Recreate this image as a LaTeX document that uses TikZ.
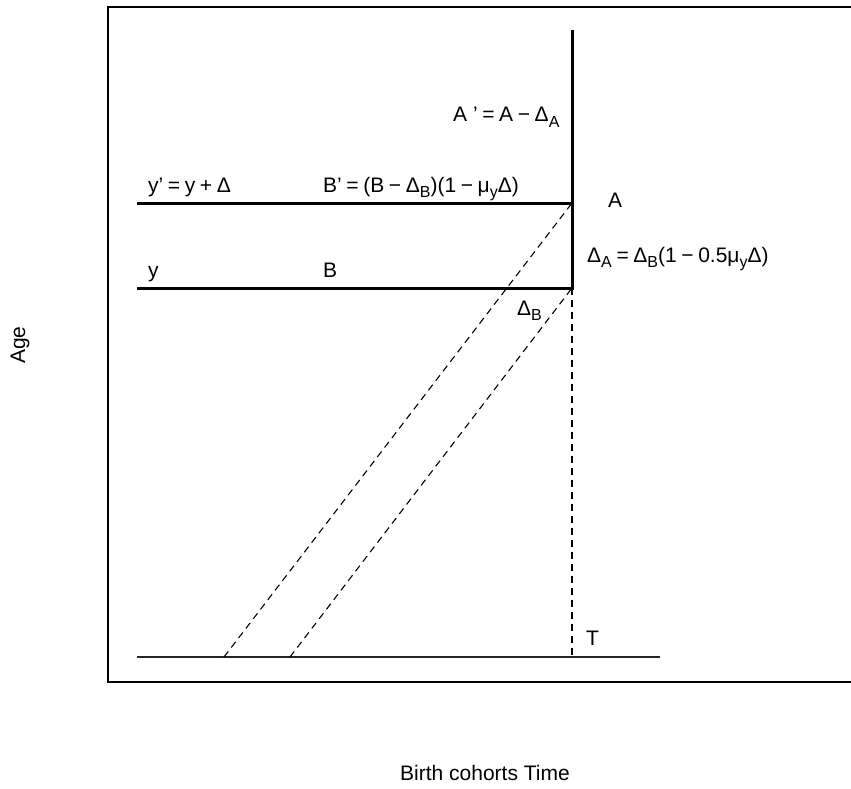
\documentclass[tikz,border=0pt]{standalone}
\usepackage{fontspec}
\setmainfont{Liberation Sans}
\newcommand\sbs[1]{\raisebox{-0.25em}{\fontsize{16}{16}\selectfont #1}}
\newcommand\gp{\hspace{0.22em}}
\begin{document}
\begin{tikzpicture}[x=1pt,y=-1pt,
  lbl/.style={inner sep=0pt, anchor=base west, font=\fontsize{21}{25}\selectfont},
  clbl/.style={inner sep=0pt, anchor=base, font=\fontsize{21}{25}\selectfont},
  frame/.style={line width=1.4pt},
  thickline/.style={line width=3pt},
  thinline/.style={line width=1.4pt, draw=black!85},
  dashline/.style={line width=1.1pt, dash pattern=on 7pt off 5pt}]
\useasboundingbox (0,0) rectangle (851,789);
% frame
\coordinate (f1) at (851,7);
\coordinate (f2) at (108,7);
\coordinate (f3) at (108,682);
\coordinate (f4) at (851,682);
\draw[frame] (f1) -- (f2) -- (f3) -- (f4);
% key points
\coordinate (top) at (572,32);
\coordinate (A) at (572,203);
\coordinate (B) at (572,288);
\coordinate (Lyp) at (137,203);
\coordinate (Ly) at (137,288);
\coordinate (T) at (572,657);
\coordinate (L0) at (137,657);
\coordinate (R0) at (660,657);
\coordinate (c1) at (224,657);
\coordinate (c2) at (290,657);
% lines
\draw[thinline] (L0) -- (R0);
\draw[dashline] (c1) -- (A);
\draw[dashline] (c2) -- (B);
\draw[dashline] (B) -- (T);
\draw[thickline] (Lyp) -- (A);
\draw[thickline] (Ly) -- (B);
\draw[thickline, line cap=rect] (B) -- (top);
% labels
\node[lbl] (aprime) at (453,122) {A ’\gp=\gp A\gp−\gp Δ\sbs{A}};
\node[lbl] (yprime) at (148,192) {y’\gp=\gp y\gp+\gp Δ};
\node[lbl] (bprime) at (323,192) {B’\gp=\gp(B\gp−\gp Δ\sbs{B})(1\gp−\gp μ\sbs{y}Δ)};
\node[lbl] (alab) at (608,207) {A};
\node[lbl] (dA) at (587,262) {Δ\sbs{A}\gp=\gp Δ\sbs{B}(1\gp−\gp 0.5μ\sbs{y}Δ)};
\node[lbl] (ylab) at (148,277) {y};
\node[lbl] (blab) at (323,277) {B};
\node[lbl] (dB) at (517,315) {Δ\sbs{B}};
\node[lbl] (tlab) at (586,645) {T};
\node[clbl, rotate=90] (age) at (25,345) {Age};
\node[clbl] (xlab) at (485,780) {Birth cohorts Time};
\end{tikzpicture}
\end{document}
